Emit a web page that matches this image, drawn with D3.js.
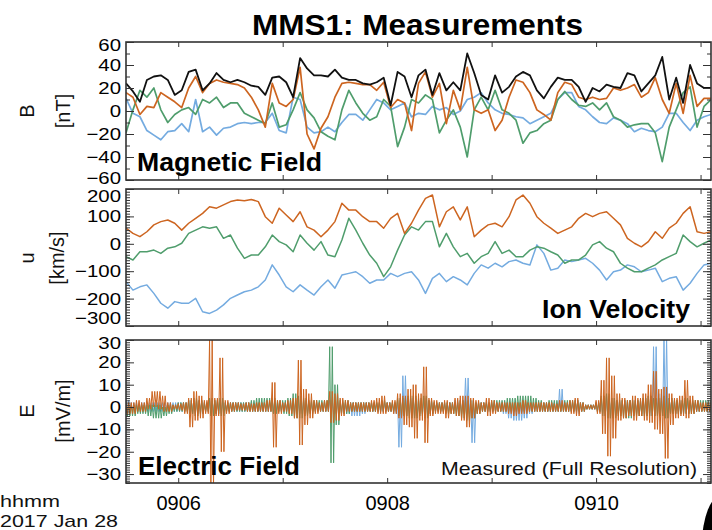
<!DOCTYPE html>
<html>
<head>
<meta charset="utf-8">
<script src="https://cdn.jsdelivr.net/npm/d3@7"></script>
<style>
  body { margin: 0; background: #ffffff; }
  #chart { display: block; font-family: "Liberation Sans", Arial, Helvetica, sans-serif; }
</style>
</head>
<body>
<svg id="chart" width="712" height="530"></svg>
<script>

// time base of the plot, 2017 Jan 28
const startTime = new Date(2017, 0, 28, 9, 5, 30);
const endTime = new Date(2017, 0, 28, 9, 11, 6);
const fieldCadence = 4;   // s between B and u samples
const efieldCadence = 3;  // s per E min/max bin

const timeTickMinutes = [6, 7, 8, 9, 10, 11];
const timeTickLabels = ["0906", "", "0908", "", "0910", ""];

// Magnetic field [nT]
const bTicks = [-60, -40, -20, 0, 20, 40, 60];
const bx = [11,-2,-5,-17,-21,-25,-18,-17,-11,-18,10,-18,-14,-21,-15,-14,-11,-10,-11,-10,-10,-2,-17,-19,12,10,-14,-19,-18,-14,-18,-10,-3,
  -3,-8,1,10,7,1,4,7,-5,-2,-3,4,1,3,-3,0,10,12,16,7,1,-2,-3,-5,-6,-11,-8,-5,-2,10,16,16,4,1,-5,-10,-11,-6,-8,-11,-18,-15,-17,-18,-14,-2,-2,-10,-17,-8,-5,-3];
const by = [-19,1,18,12,20,1,-10,-3,1,3,-3,10,7,12,3,7,7,-2,-5,-8,-11,7,-14,-12,1,16,1,-6,-18,-22,-25,1,18,
  7,-2,-8,-5,10,4,-31,-14,10,7,14,10,-19,-8,1,-14,-40,1,12,1,18,1,-2,-8,-28,-19,-17,-11,-8,10,17,10,5,4,7,1,7,-5,-8,-14,-12,-11,-11,-19,-44,-14,1,16,21,-14,4,10];
const bz = [16,12,-3,4,3,16,12,8,3,20,30,16,24,27,25,24,23,20,12,1,-14,24,7,4,10,38,-20,-33,-15,-5,12,24,25,
  24,23,23,18,25,3,10,7,-17,24,34,12,24,-11,18,1,38,1,-2,1,-17,-8,12,27,25,16,1,-3,-8,16,25,23,12,10,12,10,11,20,18,20,23,12,16,29,10,-2,24,-2,31,4,11,11];
const bt = [24,17,8,27,30,31,27,14,18,34,36,18,24,33,27,25,27,25,22,21,14,29,30,25,12,46,37,31,31,30,36,29,27,
  27,24,23,25,29,5,34,30,12,31,36,14,33,18,25,18,50,33,14,10,31,16,21,30,34,31,18,11,21,29,27,27,21,8,20,17,23,21,20,33,31,17,24,31,47,10,29,7,40,24,20,20];

// Ion velocity [km/s]
const uTicks = [-300, -200, -100, 0, 100, 200];
const ux = [-138,-169,-157,-150,-181,-217,-235,-211,-217,-217,-199,-248,-254,-242,-223,-199,-187,-175,-169,-157,-132,-77,-114,-157,-175,-150,-169,-187,-157,-132,-162,-114,-108,
  -102,-120,-144,-132,-132,-108,-120,-108,-102,-132,-181,-126,-108,-138,-120,-132,-150,-108,-77,-89,-71,-84,-65,-59,-71,-77,-4,-35,-96,-89,-59,-65,-59,-53,-71,-96,-132,-102,-96,-77,-84,-102,-96,-89,-138,-126,-120,-169,-144,-108,-77,-71];
const uy = [-47,-59,-29,-29,-23,-35,-16,-11,2,38,50,62,57,62,20,32,-16,-53,-41,-41,-11,32,8,-4,-29,32,2,-23,8,-41,-47,14,93,
  50,2,-41,-71,-120,-84,-23,32,62,50,81,81,-11,38,-11,-47,-35,-71,-47,-35,8,-35,-23,-47,-47,-23,-11,-16,-29,-41,-71,-59,-59,-41,-4,8,-16,-29,-71,-89,-102,-102,-89,-77,-59,-47,-35,32,8,-11,2,14];
const uz = [57,38,26,44,69,81,87,75,50,75,93,111,135,130,142,154,160,157,162,154,99,75,130,105,81,117,62,50,26,50,81,148,123,
  123,99,81,81,57,93,111,38,75,123,166,178,62,117,135,87,135,26,50,69,75,62,99,160,178,148,99,75,57,38,50,62,93,111,99,111,117,93,69,20,2,-11,8,44,20,57,75,111,135,44,38,44];

// Electric field [mV/m], max and min in each bin
const eTicks = [-30, -20, -10, 0, 10, 20, 30];
const exHi = [3,2,2,2,2,2,2,2,2,2, 2,2,3,3,3,2,3,3,3,2, 2,2,2,2,2,2,2,2,3,2, 2,2,3,3,3,2,2,2,2,3,
  3,2,2,2,2,2,2,2,2,2, 2,2,3,14,4,4,3,4,3,2, 2,2,2,3,3,13,3,2,2,2, 2,2,2,2,2,2,2,2,2,2,
  2,2,2,8,2,2,3,2,1,1, 2,4,5,4,3,3,3,3,3,4, 5,27,6,31,4,3,3,3,2,2, 2,2,2];
const exLo = [-2,-2,-2,-2,-2,-2,-2,-2,-2,-2, -2,-2,-3,-3,-3,-2,-3,-3,-3,-2, -2,-2,-2,-2,-2,-2,-2,-2,-3,-2, -2,-2,-3,-3,-3,-2,-2,-2,-2,-3,
  -3,-3,-3,-4,-4,-3,-2,-2,-2,-2, -2,-3,-18,-4,-4,-4,-3,-4,-3,-2, -2,-2,-2,-3,-3,-3,-16,-2,-2,-2, -2,-2,-3,-5,-6,-6,-5,-3,-2,-2,
  -2,-2,-2,-2,-2,-2,-3,-2,-1,-1, -2,-4,-5,-4,-3,-3,-3,-3,-3,-4, -4,-4,-4,-5,-3,-3,-3,-3,-2,-2, -2,-2,-2];
const eyHi = [1,1,1,1,1,1,1,0,1,1, 2,2,3,4,3,2,4,3,4,2, 2,2,2,2,3,4,4,4,4,3, 3,4,6,5,4,3,3,3,3,27,
  10,3,3,2,2,2,2,2,2,3, 2,2,4,4,5,5,4,5,3,2, 2,2,2,2,3,3,3,2,2,2, 3,3,3,4,4,5,5,5,4,3,
  2,3,3,2,3,3,3,2,1,1, 2,5,6,4,3,3,3,3,3,4, 5,4,4,5,4,3,3,4,3,3, 3,3,3];
const eyLo = [-4,-4,-3,-3,-4,-5,-5,-4,-3,-2, -2,-2,-3,-4,-3,-2,-4,-3,-4,-2, -2,-2,-2,-2,-2,-2,-2,-2,-3,-2, -3,-4,-5,-5,-4,-3,-2,-2,-2,-25,
  -8,-3,-3,-2,-2,-2,-2,-2,-2,-2, -2,-2,-4,-4,-5,-5,-4,-5,-3,-2, -2,-3,-3,-4,-5,-6,-5,-3,-2,-2, -2,-2,-2,-2,-2,-2,-2,-2,-2,-2,
  -2,-2,-2,-2,-2,-2,-2,-2,-1,-1, -2,-4,-5,-5,-4,-5,-5,-4,-4,-4, -4,-4,-4,-5,-3,-3,-3,-3,-3,-2, -2,-2,-2];
const ezHi = [2,2,3,2,4,7,7,5,2,1, 1.5,2,4,7,5,3,30,4,22,3, 2,2,1.5,2,1.5,2,2,3,11,3, 2,3,4,21,8,6,3,2,3,7,
  6,4,3,2,2,2,2,3,4,5, 2,3,6,5,8,10,6,18,4,3, 2,3,2,4,5,5,4,3,2,4, 3,2,2,2,2,2,3,2,2,2,
  2,2,1.5,3,2,3,4,2,1,1, 3,12,22,14,6,4,3,5,4,6, 10,16,8,9,6,4,5,12,5,3, 2,2,2];
const ezLo = [-3,-3,-2,-2,-1,0,-1,-2,-2,-1, -1.5,-3,-9,-6,-5,-3,-36,-4,-20,-3, -2,-1.5,-1.5,-2,-2,-2,-2,-2,-18,-3, -2,-3,-5,-17,-8,-5,-3,-2,-2,-7,
  -6,-4,-2,-2,-2,-2,-2,-2,-3,-3, -2,-3,-5,-8,-9,-14,-6,-16,-4,-3, -3,-5,-3,-4,-6,-9,-5,-3,-2,-4, -3,-2,-2,-3,-4,-3,-3,-2,-2,-2,
  -2,-2,-2,-2,-2,-3,-4,-2,-1,-1, -3,-12,-22,-14,-6,-5,-4,-6,-4,-6, -7,-10,-12,-23,-8,-5,-4,-5,-3,-2, -2,-2,-2];

const colX = "#74abe0";
const colY = "#4f9d6c";
const colZ = "#cd6520";
const colT = "#111111";

const plotLeft = 126;
const plotRight = 711;

const svg = d3.select("#chart");
const x = d3.scaleTime().domain([startTime, endTime]).range([plotLeft, plotRight]);
const minuteTicks = timeTickMinutes.map(m => new Date(2017, 0, 28, 9, m, 0));

function fieldPoints(values) {
  return values.map((v, i) => [new Date(+startTime + i * fieldCadence * 1000), v]);
}

// min/max bins drawn as a zigzag so the trace looks like dense data
function envelopePoints(hi, lo) {
  let pts = [];
  hi.forEach((h, i) => {
    let t = +startTime + i * efieldCadence * 1000;
    pts.push([new Date(t), h]);
    pts.push([new Date(t + 750), lo[i]]);
    pts.push([new Date(t + 1500), h]);
    pts.push([new Date(t + 2250), lo[i]]);
  });
  return pts;
}

function addTrace(parent, y, pts, color, width) {
  let line = d3.line()
    .x(d => x(d[0]))
    .y(d => y(d[1]));

  parent.append("path")
    .datum(pts)
    .attr("d", line)
    .attr("fill", "none")
    .attr("stroke", color)
    .attr("stroke-width", width)
    .attr("stroke-linejoin", "round");
}

function styleAxis(g) {
  g.select(".domain").remove();
  g.selectAll("line").attr("stroke", "#333").attr("stroke-width", 1);
  g.attr("font-size", 20).attr("font-family", null);
}

// squeeze the value labels a bit in height, keep their width
function stretchLabels(texts, factor) {
  texts.each(function () {
    let w = this.getComputedTextLength();
    d3.select(this)
      .attr("textLength", w * factor)
      .attr("lengthAdjust", "spacingAndGlyphs");
  });
}

function addPanel(p) {
  let y = d3.scaleLinear().domain(p.domain).range([p.bottom, p.top]);
  let g = svg.append("g");

  g.append("clipPath")
    .attr("id", "clip-" + p.id)
    .append("rect")
    .attr("x", plotLeft)
    .attr("y", p.top)
    .attr("width", plotRight - plotLeft)
    .attr("height", p.bottom - p.top);

  let traces = g.append("g").attr("clip-path", "url(#clip-" + p.id + ")");
  p.draw(traces, y);

  // minor ticks on both sides
  let minor = d3.range(Math.ceil(p.domain[0] / p.minorStep) * p.minorStep, p.domain[1] + 1e-9, p.minorStep);
  g.append("g")
    .attr("transform", "translate(" + plotLeft + ",0)")
    .call(d3.axisLeft(y).tickValues(minor).tickSize(-4).tickFormat(""))
    .call(styleAxis);
  g.append("g")
    .attr("transform", "translate(" + plotRight + ",0)")
    .call(d3.axisRight(y).tickValues(minor).tickSize(-4).tickFormat(""))
    .call(styleAxis);

  // major ticks and labels
  let left = g.append("g")
    .attr("transform", "translate(" + plotLeft + ",0)")
    .call(d3.axisLeft(y).tickValues(p.ticks).tickSize(-8).tickPadding(5))
    .call(styleAxis)
    .attr("font-size", 17);
  left.selectAll(".tick text")
    .attr("y", d => d === p.domain[1] ? p.topShift : (d === p.ticks[0] ? p.bottomShift : 0))
    .call(stretchLabels, 1.2);
  g.append("g")
    .attr("transform", "translate(" + plotRight + ",0)")
    .call(d3.axisRight(y).tickValues(p.ticks).tickSize(-8).tickFormat(""))
    .call(styleAxis);

  // time ticks top and bottom
  g.append("g")
    .attr("transform", "translate(0," + p.top + ")")
    .call(d3.axisTop(x).tickValues(minuteTicks).tickSize(-5).tickFormat(""))
    .call(styleAxis);
  let bottom = d3.axisBottom(x).tickValues(minuteTicks).tickSize(-5);
  if (p.timeLabels) {
    bottom.tickFormat((d, i) => timeTickLabels[i]).tickPadding(13);
  } else {
    bottom.tickFormat("");
  }
  g.append("g")
    .attr("transform", "translate(0," + p.bottom + ")")
    .call(bottom)
    .call(styleAxis);

  // frame
  g.append("rect")
    .attr("x", plotLeft)
    .attr("y", p.top)
    .attr("width", plotRight - plotLeft)
    .attr("height", p.bottom - p.top)
    .attr("fill", "none")
    .attr("stroke", "#333")
    .attr("stroke-width", 1.6);

  // axis titles, rotated
  [[p.name, 27], [p.unit, p.unitX]].forEach(lab => {
    g.append("text")
      .attr("transform", "translate(" + lab[1] + "," + p.labelY + ") rotate(-90)")
      .attr("text-anchor", "middle")
      .attr("dominant-baseline", "central")
      .attr("font-size", 20)
      .attr("fill", "#111")
      .text(lab[0]);
  });

  // panel caption
  g.append("text")
    .attr("x", p.captionX)
    .attr("y", p.captionY)
    .attr("font-size", 25)
    .attr("font-weight", "bold")
    .attr("fill", "#000")
    .attr("textLength", p.captionLength)
    .attr("lengthAdjust", "spacingAndGlyphs")
    .text(p.caption);

  return g;
}

const panels = [
  {
    id: "b", top: 42, bottom: 180, domain: [-60, 60], ticks: bTicks, minorStep: 10,
    topShift: 3.5, bottomShift: -2,
    name: "B", unit: "[nT]", unitX: 63, labelY: 111,
    caption: "Magnetic Field", captionX: 137, captionY: 171, captionLength: 185,
    draw: (g, y) => {
      addTrace(g, y, fieldPoints(bx), colX, 1.7);
      addTrace(g, y, fieldPoints(by), colY, 1.7);
      addTrace(g, y, fieldPoints(bz), colZ, 1.7);
      addTrace(g, y, fieldPoints(bt), colT, 1.8);
    }
  },
  {
    id: "u", top: 189, bottom: 326, domain: [-300, 200], ticks: uTicks, minorStep: 10,
    topShift: 7, bottomShift: -8,
    name: "u", unit: "[km/s]", unitX: 57, labelY: 258,
    caption: "Ion Velocity", captionX: 542, captionY: 318, captionLength: 148,
    draw: (g, y) => {
      addTrace(g, y, fieldPoints(ux), colX, 1.5);
      addTrace(g, y, fieldPoints(uy), colY, 1.5);
      addTrace(g, y, fieldPoints(uz), colZ, 1.5);
    }
  },
  {
    id: "e", top: 340, bottom: 483, domain: [-34, 30], ticks: eTicks, minorStep: 1,
    topShift: 3.5, bottomShift: 0, timeLabels: true,
    name: "E", unit: "[mV/m]", unitX: 63, labelY: 411,
    caption: "Electric Field", captionX: 138, captionY: 475, captionLength: 162,
    draw: (g, y) => {
      addTrace(g, y, envelopePoints(exHi, exLo), colX, 1.0);
      addTrace(g, y, envelopePoints(eyHi, eyLo), colY, 1.0);
      addTrace(g, y, envelopePoints(ezHi, ezLo), colZ, 1.0);
    }
  }
];

panels.forEach(addPanel);

// title
svg.append("text")
  .attr("x", 252)
  .attr("y", 35)
  .attr("font-size", 30)
  .attr("font-weight", "bold")
  .attr("textLength", 331)
  .attr("lengthAdjust", "spacingAndGlyphs")
  .text("MMS1: Measurements");

svg.append("text")
  .attr("x", 441)
  .attr("y", 475)
  .attr("font-size", 19)
  .attr("fill", "#111")
  .attr("textLength", 256)
  .attr("lengthAdjust", "spacingAndGlyphs")
  .text("Measured (Full Resolution)");

// time axis caption
svg.append("text")
  .attr("x", 0)
  .attr("y", 507)
  .attr("font-size", 17)
  .attr("fill", "#111")
  .attr("textLength", 60)
  .attr("lengthAdjust", "spacingAndGlyphs")
  .text("hhmm");
svg.append("text")
  .attr("x", 0)
  .attr("y", 527)
  .attr("font-size", 17)
  .attr("fill", "#111")
  .attr("textLength", 118)
  .attr("lengthAdjust", "spacingAndGlyphs")
  .text("2017 Jan 28");

// cut-off shape in the corner of the source image
svg.append("ellipse")
  .attr("cx", 722)
  .attr("cy", 545)
  .attr("rx", 20)
  .attr("ry", 50)
  .attr("fill", "#000");

</script>
</body>
</html>
